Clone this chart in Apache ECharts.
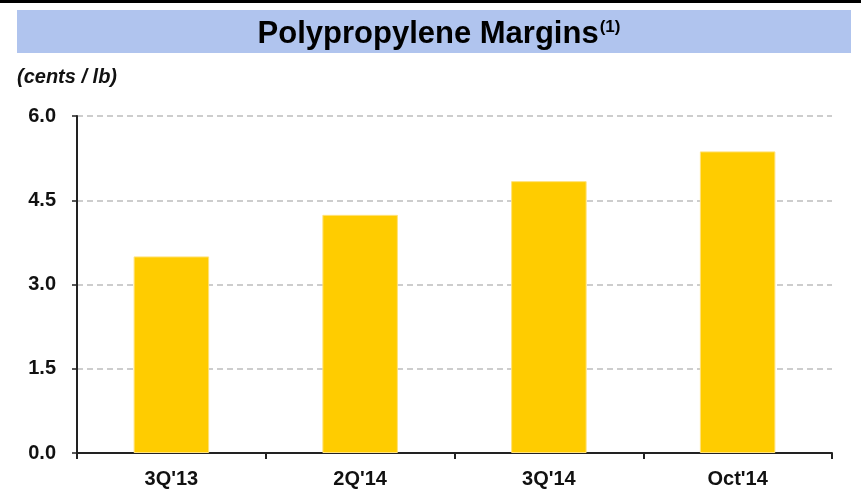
<!DOCTYPE html>
<html>
<head>
<meta charset="utf-8">
<script src="https://cdn.jsdelivr.net/npm/echarts@6/dist/echarts.min.js"></script>
<style>
  html, body { margin: 0; padding: 0; background: #fff; }
  #chart { width: 861px; height: 490px; }
</style>
</head>
<body>
<div id="chart"></div>
<script>
  // data
  var categories = ['3Q\'13', '2Q\'14', '3Q\'14', 'Oct\'14']
  var margins = [3.5, 4.24, 4.84, 5.37]
  var yTicks = [0, 1.5, 3, 4.5, 6]

  var font = '"Liberation Sans", Arial, sans-serif'

  var chart = echarts.init(document.getElementById('chart'))
  var option = {
    backgroundColor: '#fff',
    animation: false,
    graphic: [
      // black strip at the very top
      { type: 'rect', left: 0, top: 0, shape: { width: 861, height: 3 }, style: { fill: '#000' } },
      // title band
      { type: 'rect', left: 17, top: 10, shape: { width: 834, height: 43 }, style: { fill: '#B0C4EE' } },
      {
        type: 'text', left: 17, top: 67,
        style: { text: '(cents / lb)', font: 'italic bold 20px ' + font, fill: '#111' }
      }
    ],
    title: {
      text: '{t|Polypropylene Margins}{s|(1)}',
      left: 434,
      textAlign: 'center',
      top: 10,
      textStyle: {
        rich: {
          t: { fontFamily: font, fontWeight: 'bold', fontSize: 31, color: '#000', lineHeight: 38 },
          s: { fontFamily: font, fontWeight: 'bold', fontSize: 17, color: '#000', padding: [0, 0, 14, 1] }
        }
      }
    },
    grid: { left: 77, right: 29, top: 116, bottom: 37 },
    xAxis: {
      type: 'category',
      data: categories,
      axisLine: { lineStyle: { color: '#222', width: 2 } },
      axisTick: { show: true, length: 6, alignWithLabel: false, lineStyle: { color: '#222', width: 2 } },
      axisLabel: { margin: 16, color: '#111', fontFamily: font, fontWeight: 'bold', fontSize: 20 }
    },
    yAxis: {
      type: 'value',
      min: yTicks[0],
      max: yTicks[yTicks.length - 1],
      interval: 1.5,
      axisLine: { show: true, lineStyle: { color: '#222', width: 2 } },
      axisTick: { show: true, length: 5, lineStyle: { color: '#222', width: 1.5 } },
      axisLabel: {
        margin: 21, color: '#111', fontFamily: font, fontWeight: 'bold', fontSize: 20,
        formatter: function (v) { return v.toFixed(1) }
      },
      splitLine: { show: true, lineStyle: { color: '#BDBDBD', width: 1.5, type: [6, 4] } }
    },
    series: [
      {
        type: 'bar',
        data: margins,
        barWidth: '40%',
        itemStyle: { color: '#FFCC00', borderColor: '#FFE27A', borderWidth: 1 }
      }
    ]
  }
  chart.setOption(option)
</script>
</body>
</html>
